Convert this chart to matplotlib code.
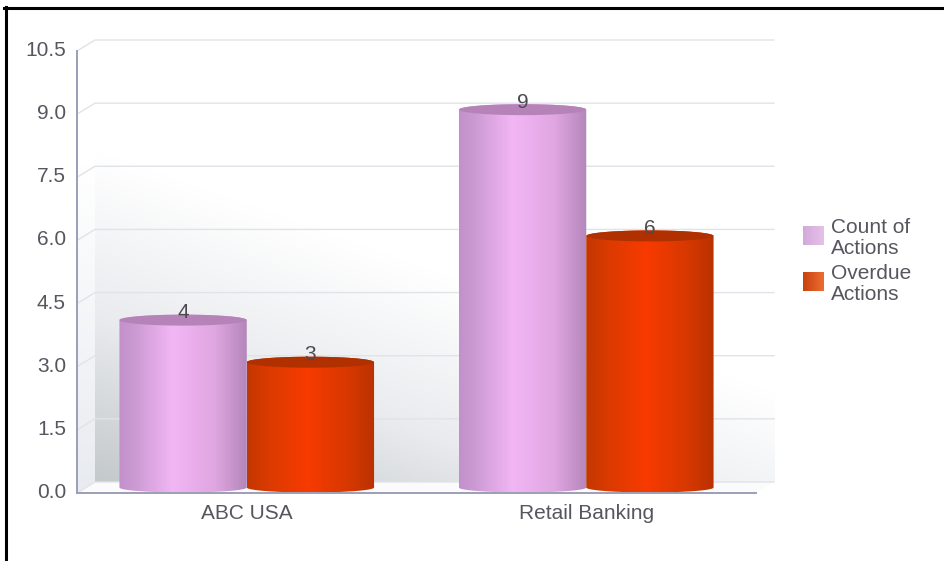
import numpy as np
import matplotlib
matplotlib.use("Agg")
import matplotlib.pyplot as plt
from matplotlib.colors import LinearSegmentedColormap
from matplotlib.legend_handler import HandlerBase
from matplotlib.patches import PathPatch, Polygon, Rectangle
from matplotlib.path import Path
from matplotlib.lines import Line2D
from matplotlib.transforms import ScaledTranslation

categories = ["ABC USA", "Retail Banking"]
series_names = ["Count of\nActions", "Overdue\nActions"]
count_of_actions = [4, 9]
overdue_actions = [3, 6]
y_ticks = [0.0, 1.5, 3.0, 4.5, 6.0, 7.5, 9.0, 10.5]

W, H = 944, 561
TEXT = "#56565e"
plt.rcParams["font.family"] = ["Liberation Sans", "DejaVu Sans"]
FS = 15.0

fig = plt.figure(figsize=(W / 100, H / 100), dpi=100, facecolor="white")
L, R, T, B = 77, 756, 51, 493
ax = fig.add_axes([L / W, 1 - B / H, (R - L) / W, (B - T) / H])
ax.set_facecolor("none")
XMIN, XMAX, YMIN, YMAX = -0.5, 1.5, 0.0, 10.5
px_x = (XMAX - XMIN) / (R - L)
px_y = (YMAX - YMIN) / (B - T)
dx, dy = 18 * px_x, 11 * px_y

# back wall
ny, nx = 160, 240
u, v = np.meshgrid(np.linspace(0, 1, nx), np.linspace(0, 1, ny))
shade = np.clip(1 - (v + 0.55 * u) / 0.75, 0, 1)
wall_cmap = LinearSegmentedColormap.from_list("wall", ["#ffffff", "#e9ebee", "#c4c9cc"])
ax.imshow(shade, origin="lower", aspect="auto", cmap=wall_cmap, vmin=0, vmax=1,
          extent=(XMIN + dx, XMAX + dx, YMIN + dy, YMAX + dy), zorder=0, clip_on=False)

# left side wall
side = np.clip(1 - v / 0.72, 0, 1)
side_cmap = LinearSegmentedColormap.from_list("side", ["#ffffff", "#e8ebf0"])
im = ax.imshow(side, origin="lower", aspect="auto", cmap=side_cmap, vmin=0, vmax=1,
               extent=(XMIN, XMIN + dx, YMIN, YMAX + dy), zorder=0.5, clip_on=False)
im.set_clip_path(Polygon([(XMIN, YMIN), (XMIN + dx, YMIN + dy), (XMIN + dx, YMAX + dy), (XMIN, YMAX)],
                         transform=ax.transData))
# floor
ax.add_patch(Polygon([(XMIN, YMIN), (XMIN + dx, YMIN + dy), (XMAX + dx, YMIN + dy), (XMAX, YMIN)],
                     fc="#fbfbfc", ec="none", zorder=0.6, clip_on=False))

# gridlines on the wall with their diagonal return
for t in y_ticks:
    ax.plot([XMIN, XMIN + dx, XMAX + dx], [t, t + dy, t + dy], color="#e0e3e8", lw=1.0,
            zorder=1, clip_on=False, solid_joinstyle="round")

purple = LinearSegmentedColormap.from_list(
    "p", [(0, "#c390cb"), (0.12, "#cb9ad3"), (0.42, "#f2b6f5"), (0.75, "#dfa6e0"), (1, "#b486ba")])
red = LinearSegmentedColormap.from_list(
    "r", [(0, "#c23800"), (0.15, "#d83a00"), (0.47, "#f83b00"), (0.8, "#d63800"), (1, "#b93200")])
TOP = {"p": "#b683b9", "r": "#b03000"}

width = 0.375
lift = 5.5 * px_y
ry_top = 5.5 * px_y
ry_bot = 5.0 * px_y


def cylinder(xc, value, cmap, top):
    x0, x1 = xc - width / 2, xc + width / 2
    y0, y1 = lift, value + 4.5 * px_y
    th = np.linspace(0, np.pi, 50)
    xs = xc + (width / 2) * np.cos(th)
    top_arc = y1 + ry_top * np.sin(th)
    bot_arc = y0 - ry_bot * np.sin(th)
    verts = np.r_[np.c_[xs, top_arc], np.c_[xs[::-1], bot_arc[::-1]]]
    body = ax.imshow(np.linspace(0, 1, 256)[None, :], aspect="auto", cmap=cmap,
                     extent=(x0, x1, y0 - ry_bot, y1 + ry_top), zorder=3, clip_on=True)
    body.set_clip_path(PathPatch(Path(verts, closed=False), transform=ax.transData))
    cap = np.c_[xc + (width / 2) * np.cos(2 * th), y1 + ry_top * np.sin(2 * th)]
    ax.add_patch(Polygon(cap, closed=True, fc=top, ec="none", zorder=4))
    ax.text(xc, y1 + 7.5 * px_y, f"{value}", ha="center", va="center", fontsize=FS,
            color="#4a4a50", zorder=5)


for i, xc in enumerate(range(len(categories))):
    cylinder(xc - width / 2, count_of_actions[i], purple, TOP["p"])
    cylinder(xc + width / 2, overdue_actions[i], red, TOP["r"])

ax.set_xlim(XMIN, XMAX)
ax.set_ylim(YMIN, YMAX)
ax.set_xticks(range(len(categories)))
ax.set_xticklabels(categories, fontsize=FS, color=TEXT)
ax.set_yticks(y_ticks)
ax.set_yticklabels([f"{t:.1f}" for t in y_ticks], fontsize=FS, color=TEXT)
ax.tick_params(axis="both", length=0)
ax.tick_params(axis="y", pad=8)
ax.tick_params(axis="x", pad=8)
shift = ScaledTranslation(0, 2.5 / 100, fig.dpi_scale_trans)
for lab in ax.get_yticklabels():
    lab.set_transform(lab.get_transform() + shift)
for s in ("top", "right"):
    ax.spines[s].set_visible(False)
for s in ("left", "bottom"):
    ax.spines[s].set_color("#9a9fb8")
    ax.spines[s].set_linewidth(1.4)


class GradientHandler(HandlerBase):
    def __init__(self, c0, c1):
        super().__init__()
        self.cmap = LinearSegmentedColormap.from_list("h", [c0, c1])

    def create_artists(self, legend, orig, xd, yd, w, h, fs, trans):
        n = 20
        return [Rectangle((-xd + w * k / n, -yd + 2.0), w / n + 0.3, h, fc=self.cmap(k / (n - 1)),
                          ec="none", transform=trans) for k in range(n)]


h1, h2 = Rectangle((0, 0), 1, 1), Rectangle((0, 0), 1, 1)
leg = ax.legend([h1, h2], series_names, frameon=False, fontsize=FS,
                handler_map={h1: GradientHandler("#d3a9da", "#e4bfe6"),
                             h2: GradientHandler("#c8430f", "#ea6a30")},
                loc="upper left", bbox_to_anchor=(803 / W, 1 - 218 / H), bbox_transform=fig.transFigure,
                handlelength=0.98, handleheight=1.0, handletextpad=0.36, labelspacing=0.26,
                borderpad=0, borderaxespad=0)
for t in leg.get_texts():
    t.set_color(TEXT)
    t.set_linespacing(1.16)

# page border of the screenshot
for xs, ys in [((5.5, 5.5), (7, H)), ((4, 944), (7.5, 7.5))]:
    fig.add_artist(Line2D([x / W for x in xs], [1 - y / H for y in ys], color="black", lw=2.2))

fig.savefig("out.png", dpi=100)
